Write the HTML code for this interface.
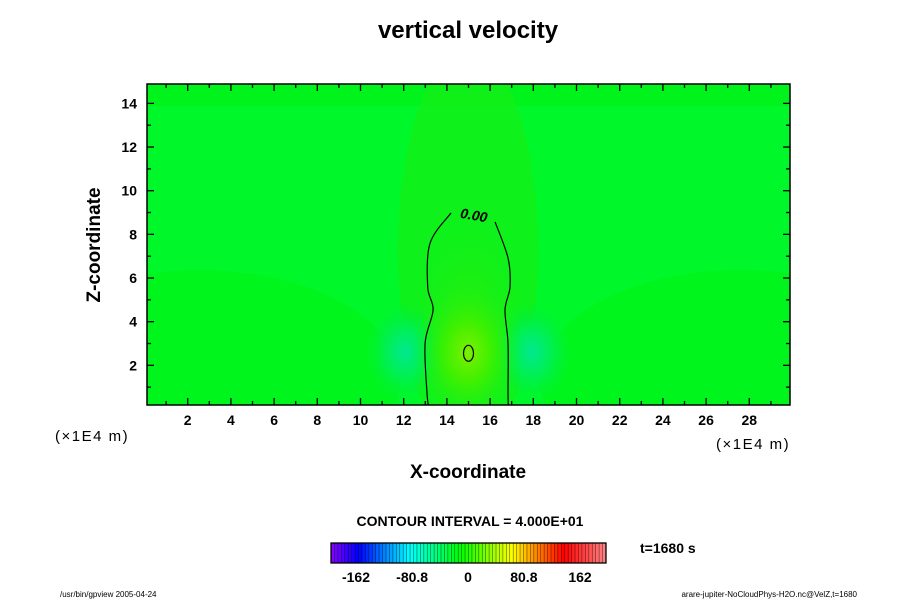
<!DOCTYPE html>
<html><head><meta charset="utf-8"><style>
html,body{margin:0;padding:0;background:#fff;width:900px;height:600px;overflow:hidden}
text{font-family:"Liberation Sans",Arial,sans-serif}
</style></head><body>
<svg id="chart" width="900" height="600" xmlns="http://www.w3.org/2000/svg">
<defs>
<radialGradient id="gCenter" cx="0.5" cy="0.5" r="0.5">
<stop offset="0" stop-color="#7af000"/><stop offset="0.4" stop-color="#40f000"/><stop offset="1" stop-color="#10f020" stop-opacity="0"/>
</radialGradient>
<radialGradient id="gCyan" cx="0.5" cy="0.5" r="0.5">
<stop offset="0" stop-color="#00e890"/><stop offset="0.5" stop-color="#00f050"/><stop offset="1" stop-color="#00f030" stop-opacity="0"/>
</radialGradient>
<radialGradient id="gUpper" cx="0.5" cy="0.5" r="0.5">
<stop offset="0" stop-color="#30f000"/><stop offset="1" stop-color="#10f020" stop-opacity="0"/>
</radialGradient>
<clipPath id="plotClip"><rect x="147" y="84" width="643" height="321"/></clipPath>
</defs>
<text x="468" y="38" text-anchor="middle" font-size="24" font-weight="bold">vertical velocity</text>
<g id="plot" clip-path="url(#plotClip)">
<rect x="147" y="84" width="643" height="321" fill="#00f82a"/>
<rect x="147" y="84" width="643" height="22" fill="#00f41c"/>
<ellipse cx="200" cy="380" rx="200" ry="110" fill="#00f41c" opacity="0.9"/>
<ellipse cx="740" cy="380" rx="200" ry="110" fill="#00f41c" opacity="0.9"/>
<ellipse cx="468" cy="250" rx="70" ry="200" fill="#10f018" opacity="0.9"/>
<ellipse cx="468" cy="330" rx="65" ry="120" fill="url(#gUpper)"/>
<ellipse cx="405" cy="352" rx="40" ry="50" fill="url(#gCyan)"/>
<ellipse cx="532" cy="352" rx="40" ry="50" fill="url(#gCyan)"/>
<ellipse cx="468" cy="352" rx="55" ry="75" fill="url(#gCenter)"/>
</g>
<g id="contours" clip-path="url(#plotClip)"></g>
<rect x="147" y="84" width="643" height="321" fill="none" stroke="#000" stroke-width="1.5"/>
<g id="axes"></g>
<text x="0" y="0" transform="translate(100,245) rotate(-90)" text-anchor="middle" font-size="19" font-weight="bold">Z-coordinate</text>
<text x="468" y="478" text-anchor="middle" font-size="19" font-weight="bold">X-coordinate</text>
<text x="55" y="441" font-size="15" letter-spacing="1.5">(×1E4 m)</text>
<text x="716" y="449" font-size="15" letter-spacing="1.5">(×1E4 m)</text>
<text x="470" y="526" text-anchor="middle" font-size="14" font-weight="bold">CONTOUR INTERVAL = 4.000E+01</text>
<g id="colorbar"></g>
<text x="640" y="553" font-size="14" font-weight="bold">t=1680 s</text>
<text x="60" y="597" font-size="8">/usr/bin/gpview 2005-04-24</text>
<text x="857" y="597" text-anchor="end" font-size="8">arare-jupiter-NoCloudPhys-H2O.nc@VelZ,t=1680</text>
</svg>
<script>
var xTicks=[2,4,6,8,10,12,14,16,18,20,22,24,26,28];
var yTicks=[2,4,6,8,10,12,14];
var contourLeftX=[14.19,13.22,13.11,13.36,12.99,13.08,13.17];
var contourLeftY=[8.98,7.60,5.59,4.54,3.02,0.73,0.0];
var contourRightX=[16.23,16.83,16.92,16.69,16.83,16.83,16.85];
var contourRightY=[8.57,6.92,5.59,4.54,3.02,0.73,0.0];
var centerContour=[15.0,2.55];
var cbarLabels=["-162","-80.8","0","80.8","162"];
var cbarValues=[-162,-80.8,0,80.8,162];
var NS="http://www.w3.org/2000/svg";
function sx(v){return 144.5+v*21.6;}
function sy(v){return 409-v*21.83;}
function mk(t,a,p){var e=document.createElementNS(NS,t);for(var k in a)e.setAttribute(k,a[k]);p.appendChild(e);return e;}
var axes=document.getElementById('axes');
for(var i=1;i<=29;i++){var x=sx(i);var L=(i%2==0)?7:4;
var t1=mk('line',{x1:x,x2:x,y1:405,y2:405-L,stroke:'#000','stroke-width':1.3},axes);


var t2=mk('line',{x1:x,x2:x,y1:84,y2:84+L,stroke:'#000','stroke-width':1.3},axes);

}
for(var j=1;j<=14;j++){var y=sy(j);var L2=(j%2==0)?7:4;
var t3=mk('line',{x1:147,x2:147+L2,y1:y,y2:y,stroke:'#000','stroke-width':1.3},axes);


var t4=mk('line',{x1:790,x2:790-L2,y1:y,y2:y,stroke:'#000','stroke-width':1.3},axes);

}
xTicks.forEach(function(v){var e=mk('text',{x:sx(v),y:425,'text-anchor':'middle','font-size':14,'font-weight':'bold'},axes);e.textContent=v;

});
yTicks.forEach(function(v){var e=mk('text',{x:137,y:sy(v)+5,'text-anchor':'end','font-size':14,'font-weight':'bold'},axes);e.textContent=v;

});
var cg=document.getElementById('contours');
function pathOf(xs,ys){
  var p=xs.map(function(v,i){return [sx(v),sy(ys[i])];});
  var d='M'+p[0][0].toFixed(1)+','+p[0][1].toFixed(1);
  for(var i=0;i<p.length-1;i++){
    var p0=p[Math.max(i-1,0)],p1=p[i],p2=p[i+1],p3=p[Math.min(i+2,p.length-1)];
    var c1x=p1[0]+(p2[0]-p0[0])/6,c1y=p1[1]+(p2[1]-p0[1])/6;
    var c2x=p2[0]-(p3[0]-p1[0])/6,c2y=p2[1]-(p3[1]-p1[1])/6;
    d+=' C'+c1x.toFixed(1)+','+c1y.toFixed(1)+' '+c2x.toFixed(1)+','+c2y.toFixed(1)+' '+p2[0].toFixed(1)+','+p2[1].toFixed(1);
  }
  return d;}
var pl=mk('path',{d:pathOf(contourLeftX,contourLeftY),fill:'none',stroke:'#000','stroke-width':1.2},cg);


var pr=mk('path',{d:pathOf(contourRightX,contourRightY),fill:'none',stroke:'#000','stroke-width':1.2},cg);


var ce=mk('ellipse',{cx:sx(centerContour[0]),cy:sy(centerContour[1]),rx:5,ry:8,fill:'none',stroke:'#000','stroke-width':1.2},cg);


var lab=mk('text',{x:0,y:0,transform:'translate(473,220) rotate(10)','text-anchor':'middle','font-size':14,'font-weight':'bold','font-style':'italic'},cg);
lab.textContent='0.00';


var cb=document.getElementById('colorbar');
var N=80,x0=331,x1=606,w=(x1-x0)/N;
for(var k=0;k<N;k++){var f=k/(N-1);var h,l=50;
if(f<0.85){h=270-f/0.85*270;}else{h=0;l=50+(f-0.85)/0.15*25;}
var r=mk('rect',{x:x0+k*w,y:543,width:w+0.3,height:20,fill:'hsl('+h+',100%,'+l+'%)'},cb);


var ln=mk('line',{x1:x0+k*w,x2:x0+k*w,y1:543,y2:563,stroke:'#000','stroke-width':0.6,opacity:0.6},cb);

}
var fr=mk('rect',{x:x0,y:543,width:x1-x0,height:20,fill:'none',stroke:'#000','stroke-width':1.3},cb);


cbarValues.forEach(function(v,i){var px=468+v/162*112;var e=mk('text',{x:px,y:582,'text-anchor':'middle','font-size':14,'font-weight':'bold'},cb);e.textContent=cbarLabels[i];

});
</script>
</body></html>
